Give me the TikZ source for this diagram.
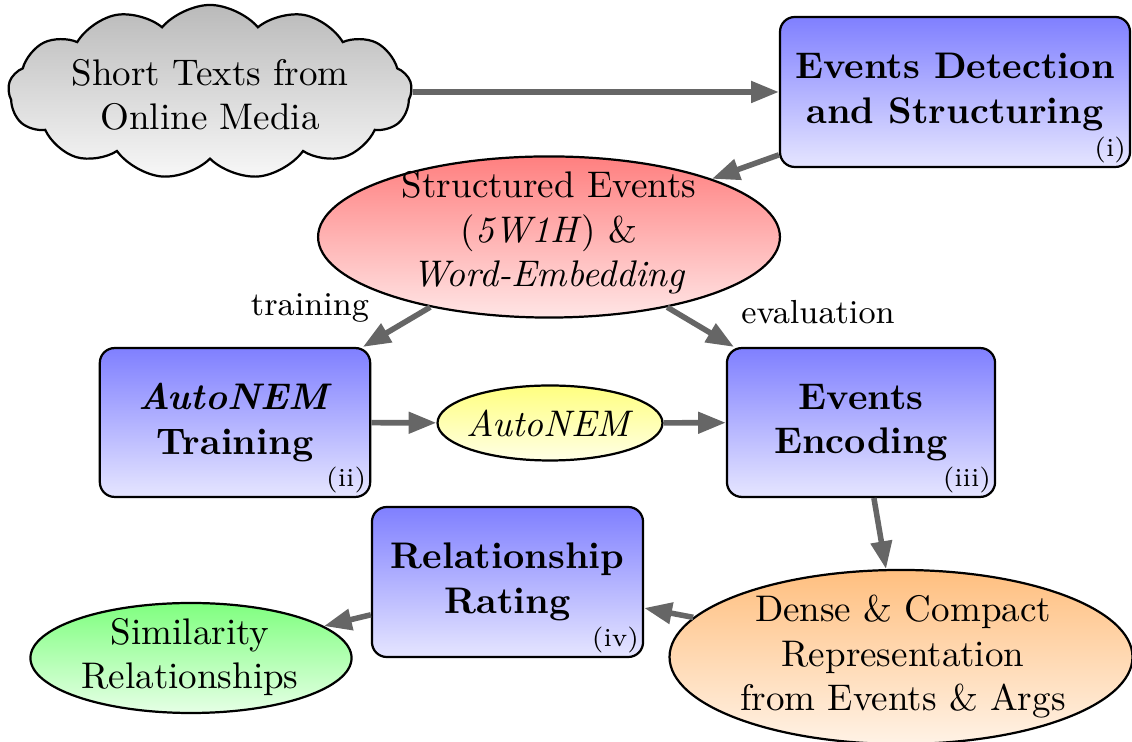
\documentclass[tikz,border=0pt]{standalone}
\usetikzlibrary{shapes.geometric,shapes.symbols,arrows.meta}
\begin{document}
\begin{tikzpicture}[x=0.27pt,y=-0.27pt,
  flow/.style={line width=1.5pt, color=black!60, -{Triangle[length=7.5pt,width=5.6pt]}},
  stagebox/.style={draw, line width=0.6pt, rounded corners=4pt, top color=blue!50,
    bottom color=blue!10, align=center, font=\bfseries, inner sep=0pt},
  blob/.style={ellipse, draw, line width=0.6pt, inner sep=0pt},
  tag/.style={anchor=south east, font=\scriptsize, inner sep=1.2pt},
  caption/.style={align=center, inner sep=0pt},
  edgetext/.style={font=\small, inner sep=0pt}
]
\useasboundingbox (0,0) rectangle (1132,742);

% source cloud
\node[cloud, cloud puffs=13, cloud puff arc=100, aspect=2.3, draw, line width=0.6pt,
      top color=black!27, bottom color=black!3, inner sep=0pt,
      minimum width=109pt, minimum height=47pt] (src) at (210,92) {};
\node[caption] (srctxt) at (210,95) {Short Texts from\\Online Media};

% stage (i)
\node[stagebox, minimum width=94.5pt, minimum height=40.5pt] (det) at (955,92)
  {Events Detection\\and Structuring};
\node[tag] (dettag) at (det.south east) {(i)};

% structured events
\node[blob, top color=red!50, bottom color=red!10,
      minimum width=124.7pt, minimum height=43.5pt] (evs) at (549,237) {};
\node[caption] (evstxt) at (549,233)
  {Structured Events\\(\textit{5W1H}) \&\\\textit{Word-Embedding}};

% stage (ii)
\node[stagebox, minimum width=73pt, minimum height=40.2pt] (trn) at (235,422.5)
  {\textit{AutoNEM}\\Training};
\node[tag] (trntag) at (trn.south east) {(ii)};

% trained model
\node[blob, top color=yellow!50, bottom color=yellow!10,
      minimum width=60.75pt, minimum height=20.25pt] (mdl) at (550,423) {};
\node[caption] (mdltxt) at (550,423) {\textit{AutoNEM}};

% stage (iii)
\node[stagebox, minimum width=72.4pt, minimum height=40.2pt] (enc) at (861,422.5)
  {Events\\Encoding};
\node[tag] (enctag) at (enc.south east) {(iii)};

% dense representation
\node[blob, top color=orange!50, bottom color=orange!10,
      minimum width=125pt, minimum height=47pt] (rep) at (901,657) {};
\node[caption] (reptxt) at (903,657)
  {Dense \& Compact\\Representation\\from Events \& Args};

% stage (iv)
\node[stagebox, minimum width=73.2pt, minimum height=40.5pt] (rat) at (507.5,582)
  {Relationship\\Rating};
\node[tag] (rattag) at (rat.south east) {(iv)};

% output
\node[blob, top color=green!50, bottom color=green!10,
      minimum width=86.7pt, minimum height=29.7pt] (sim) at (191,658) {};
\node[caption] (simtxt) at (190,657) {Similarity\\Relationships};

% connectors
\draw[flow] (src) -- (det);
\draw[flow] (det) -- (evs);
\draw[flow] (evs) -- (trn);
\draw[flow] (evs) -- (enc);
\draw[flow] (trn) -- (mdl);
\draw[flow] (mdl) -- (enc);
\draw[flow] (enc) -- (rep);
\draw[flow] (rep) -- (rat);
\draw[flow] (rat) -- (sim);

\node[edgetext] (lbltrain) at (310,308) {training};
\node[edgetext] (lbleval) at (818,312) {evaluation};
\end{tikzpicture}
\end{document}
